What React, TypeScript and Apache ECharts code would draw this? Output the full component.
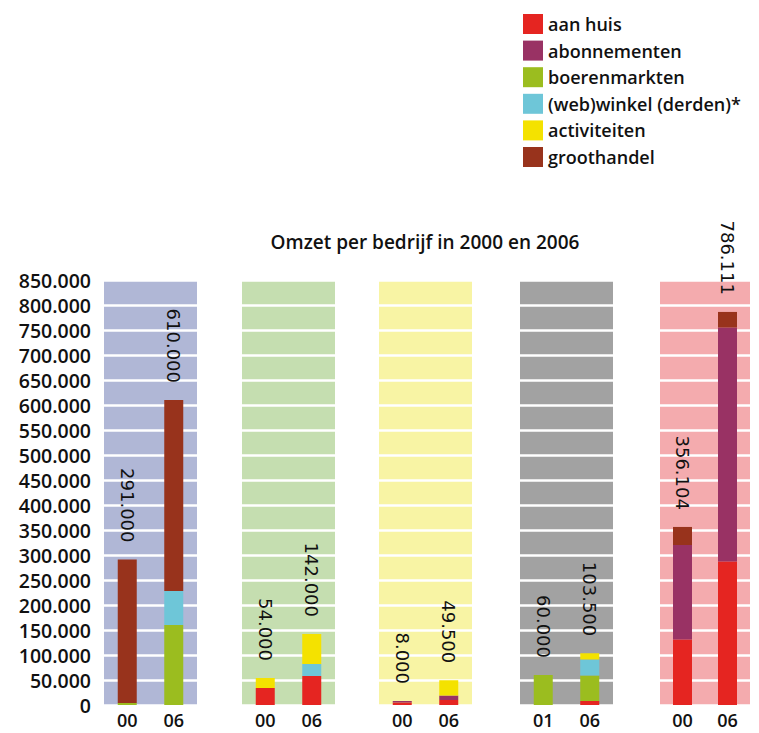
import React, { useEffect, useRef } from "react";
import * as echarts from "echarts";

// values in thousands of euro, per panel [first bar, second bar]
const categories = [["00", "06"], ["00", "06"], ["00", "06"], ["01", "06"], ["00", "06"]];
const aanHuis = [[0, 0], [34, 58], [5, 10], [0, 8], [131, 287]];
const abonnementen = [[0, 0], [0, 0], [3, 9], [0, 0], [189, 468]];
const boerenmarkten = [[4, 160], [0, 0], [0, 0], [60, 51], [0, 0]];
const webwinkel = [[0, 68], [0, 24], [0, 0], [0, 32], [0, 0]];
const activiteiten = [[0, 0], [20, 60], [0, 30.5], [0, 12.5], [0, 0]];
const groothandel = [[287, 382], [0, 0], [0, 0], [0, 0], [36.104, 31.111]];
const totals = [[291, 610], [54, 142], [8, 49.5], [60, 103.5], [356.104, 786.111]];

const seriesNames = ["aan huis", "abonnementen", "boerenmarkten", "(web)winkel (derden)*", "activiteiten", "groothandel"];
const seriesData = [aanHuis, abonnementen, boerenmarkten, webwinkel, activiteiten, groothandel];
const seriesColors = ["#E52521", "#993264", "#9BBD1F", "#6EC6D8", "#F4E200", "#98331C"];
const panelBackgrounds = ["#B0B7D6", "#C5DEB0", "#F8F4A4", "#A2A2A2", "#F4ABAE"];
const title = "Omzet per bedrijf in 2000 en 2006";

const panelLeft = [104, 242, 379, 520, 660];
const panelWidth = [93, 93, 93, 93, 90];

const FONT = "'Open Sans', 'Noto Sans', sans-serif";

function fmt(v: number): string {
  const n = Math.round(v);
  if (n === 0) return "0";
  return n.toString().replace(/\B(?=(\d{3})+(?!\d))/g, ".");
}

export default function App() {
  const ref = useRef<HTMLDivElement>(null);
  useEffect(() => {
    document.body.style.margin = "0";
    const chart = echarts.init(ref.current!, null, { renderer: "svg" });
    const grids = panelLeft.map((l, i) => ({
      left: l,
      width: panelWidth[i],
      top: 280,
      height: 425,
      show: true,
      backgroundColor: panelBackgrounds[i],
      borderWidth: 0,
    }));
    const xAxes = categories.map((c, i) => ({
      type: "category",
      gridIndex: i,
      data: c,
      axisLine: { show: false },
      axisTick: { show: false },
      axisLabel: { color: "#111", fontSize: 18, fontWeight: 600, fontFamily: FONT, margin: 6 },
    }));
    const yAxes = categories.map((_, i) => ({
      type: "value",
      gridIndex: i,
      min: 0,
      max: 850000,
      interval: 50000,
      axisLine: { show: false },
      axisTick: { show: false },
      axisLabel: {
        show: i === 0,
        color: "#111",
        fontSize: 19.5,
        fontWeight: 600,
        fontFamily: FONT,
        margin: 13,
        formatter: (v: number) => fmt(v),
      },
      splitLine: { show: true, lineStyle: { color: "#ffffff", width: 2.5 } },
    }));
    const series: any[] = [];
    categories.forEach((_, p) => {
      seriesNames.forEach((name, s) => {
        series.push({
          type: "bar",
          name,
          xAxisIndex: p,
          yAxisIndex: p,
          stack: "s" + p,
          barWidth: 19,
          barGap: "-100%",
          itemStyle: { color: seriesColors[s] },
          data: seriesData[s][p].map((v) => v * 1000),
        });
      });
      series.push({
        type: "bar",
        name: "totaal",
        xAxisIndex: p,
        yAxisIndex: p,
        barWidth: 19,
        barGap: "-100%",
        itemStyle: { color: "rgba(0,0,0,0)" },
        data: totals[p].map((v) => v * 1000),
        label: {
          show: true,
          position: "top",
          rotate: -90,
          align: "right",
          verticalAlign: "middle",
          distance: 17,
          color: "#111",
          fontSize: 18,
          fontFamily: "'DejaVu Sans', sans-serif",
          formatter: (d: any) => fmt(d.value),
        },
        silent: true,
      });
    });
    chart.setOption({
      animation: false,
      grid: grids,
      xAxis: xAxes,
      yAxis: yAxes,
      legend: {
        data: seriesNames,
        orient: "vertical",
        left: 523,
        top: 14,
        padding: 0,
        itemWidth: 20,
        itemHeight: 20,
        itemGap: 6.6,
        icon: "rect",
        selectedMode: false,
        textStyle: { color: "#111", fontSize: 18, fontWeight: 600, fontFamily: FONT },
      },
      graphic: [
        {
          type: "text",
          x: 425,
          y: 242,
          style: {
            text: title,
            fill: "#111",
            font: `600 19px ${FONT}`,
            textAlign: "center",
            textVerticalAlign: "middle",
          },
        },
      ],
      series,
    });
    return () => chart.dispose();
  }, []);
  return <div ref={ref} style={{ width: 759, height: 733 }} />;
}
